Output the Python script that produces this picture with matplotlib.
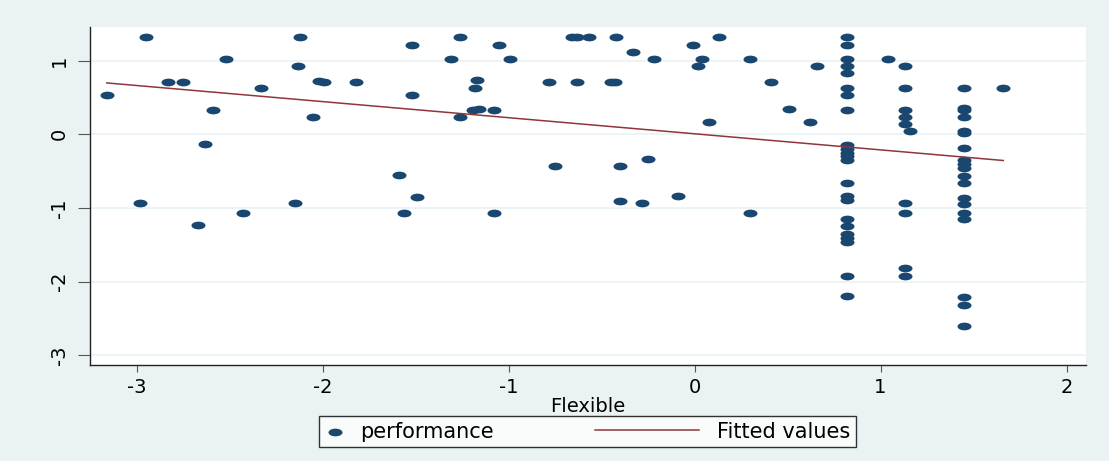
import numpy as np
import matplotlib
matplotlib.use('Agg')
import matplotlib.pyplot as plt
from matplotlib.path import Path
from matplotlib.transforms import Affine2D
from matplotlib.lines import Line2D
from matplotlib.legend_handler import HandlerBase

# values
flexible = [
    -3.16, -2.95, -2.83, -2.75, -2.52, -2.59, -2.63, -2.98, -2.67, -2.43,
    -2.33, -2.12, -2.13, -2.15, -2.05, -2.02, -1.99, -1.82, -1.52, -1.26,
    -1.05, -1.31, -0.99, -0.66, -0.63, -0.57, -0.42, -0.33, -0.22, -1.17,
    -1.18, -1.52, -0.78, -0.63, -0.45, -0.43, -1.19, -1.16, -1.08, -1.26,
    -1.59, -1.49, -1.56, -1.08, -0.75, -0.40, -0.25, -0.40, -0.28, -0.01,
    0.13, 0.04, 0.02, 0.30, 0.66, 0.41, 0.51, 0.08, 0.62, -0.09,
    0.30, 1.04, 1.16, 1.66,
    # column near 0.82
    0.82, 0.82, 0.82, 0.82, 0.82, 0.82, 0.82, 0.82, 0.82, 0.82,
    0.82, 0.82, 0.82, 0.82, 0.82, 0.82, 0.82, 0.82, 0.82, 0.82,
    0.82, 0.82, 0.82,
    # column near 1.13
    1.13, 1.13, 1.13, 1.13, 1.13, 1.13, 1.13, 1.13, 1.13,
    # column near 1.45
    1.45, 1.45, 1.45, 1.45, 1.45, 1.45, 1.45, 1.45, 1.45, 1.45,
    1.45, 1.45, 1.45, 1.45, 1.45, 1.45, 1.45, 1.45, 1.45,
]
performance = [
    0.54, 1.32, 0.71, 0.71, 1.02, 0.33, -0.13, -0.94, -1.23, -1.07,
    0.63, 1.32, 0.93, -0.94, 0.24, 0.73, 0.71, 0.71, 1.22, 1.32,
    1.22, 1.02, 1.02, 1.32, 1.32, 1.32, 1.32, 1.12, 1.02, 0.74,
    0.63, 0.54, 0.71, 0.71, 0.71, 0.71, 0.33, 0.34, 0.33, 0.24,
    -0.55, -0.85, -1.07, -1.07, -0.43, -0.43, -0.33, -0.91, -0.94, 1.22,
    1.32, 1.02, 0.93, 1.02, 0.93, 0.71, 0.34, 0.17, 0.17, -0.84,
    -1.07, 1.02, 0.05, 0.63,
    1.32, 1.22, 1.02, 0.93, 0.83, 0.63, 0.54, 0.33, -0.14, -0.20,
    -0.26, -0.30, -0.35, -0.66, -0.84, -0.89, -1.15, -1.24, -1.36, -1.41,
    -1.46, -1.92, -2.20,
    0.93, 0.63, 0.33, 0.24, 0.14, -0.94, -1.07, -1.81, -1.92,
    0.63, 0.36, 0.33, 0.24, 0.05, 0.02, -0.18, -0.35, -0.40, -0.46,
    -0.57, -0.66, -0.87, -0.95, -1.07, -1.15, -2.21, -2.32, -2.60,
]
xticks = [-3, -2, -1, 0, 1, 2]
yticks = [-3, -2, -1, 0, 1]

navy = '#1a476f'
maroon = '#90353b'
bg = '#eaf2f3'

x = np.array(flexible)
y = np.array(performance)
slope, icept = np.polyfit(x, y, 1)
xfit = np.array([x.min(), x.max()])
yfit = icept + slope * xfit

# squashed circle, the reference is stretched sideways
ellipse = Affine2D().scale(1, 0.55).transform_path(Path.unit_circle())


class LongLine(HandlerBase):
    # draw the fitted-values key longer than the handle box
    def create_artists(self, legend, orig_handle, xdescent, ydescent,
                       width, height, fontsize, trans):
        yc = (height - ydescent) / 2
        ln = Line2D([width - 78, width - 3], [yc, yc], color=maroon, lw=1.1)
        ln.set_transform(trans)
        return [ln]


fig = plt.figure(figsize=(11.09, 4.61), dpi=100, facecolor=bg)
ax = fig.add_axes([0.0812, 0.2072, 0.8978, 0.7342])
ax.set_facecolor('white')

ax.set_xlim(-3.25, 2.103)
ax.set_ylim(-3.141, 1.458)

for yy in yticks:
    ax.axhline(yy, color=bg, lw=1.2, zorder=1)

pts = ax.scatter(x, y, s=102, marker=ellipse, color=navy, linewidths=0,
                 zorder=3, label='performance')
fit, = ax.plot(xfit, yfit, color=maroon, lw=1.1, zorder=4, label='Fitted values')

for side in ['top', 'right']:
    ax.spines[side].set_visible(False)
for side in ['left', 'bottom']:
    ax.spines[side].set_color('#222222')
    ax.spines[side].set_linewidth(1.0)

ax.set_xticks(xticks)
ax.set_xticklabels([str(t) for t in xticks])
ax.set_yticks(yticks)
ax.set_yticklabels([str(t) for t in yticks])
ax.tick_params(axis='x', length=5, width=0.8, color='#555555', pad=4, labelsize=14)
ax.tick_params(axis='y', length=8.5, width=0.8, color='#555555', pad=6.5,
               labelsize=14, labelrotation=90)
for lbl in ax.get_yticklabels():
    lbl.set_va('center')

ax.set_xlabel('Flexible', fontsize=14, labelpad=0)

leg = fig.legend([pts, fit], ['performance', 'Fitted values'],
                 handler_map={Line2D: LongLine()},
                 loc='center', bbox_to_anchor=(587.5 / 1109, 1 - 431.5 / 461),
                 ncol=2, fontsize=15, frameon=True, fancybox=False,
                 borderpad=0.25, handlelength=1.06, handletextpad=0.67,
                 columnspacing=9.0, scatterpoints=1)
leg.get_frame().set_edgecolor('black')
leg.get_frame().set_linewidth(1.0)
leg.get_frame().set_facecolor('white')

fig.savefig('out.png', dpi=100, facecolor=bg)
